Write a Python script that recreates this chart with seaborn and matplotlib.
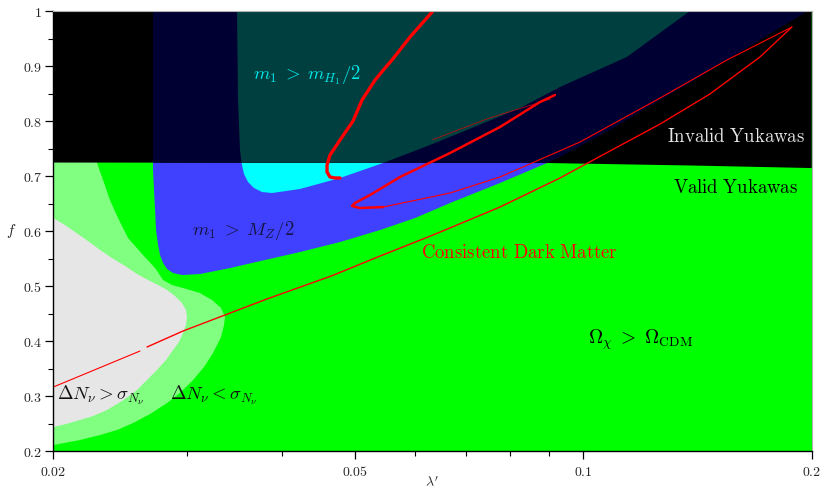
import matplotlib
matplotlib.use('Agg')
import matplotlib.pyplot as plt
import seaborn as sns
from matplotlib.ticker import FixedLocator, FuncFormatter, MultipleLocator, NullFormatter

# boundaries, as (lambda', f) pairs
yuk_lam = [0.02, 0.05, 0.09, 0.14, 0.2]
yuk_f = [0.7245, 0.7240, 0.7236, 0.7190, 0.7145]

dn_weak_lam = [0.02, 0.02256, 0.02284, 0.02326, 0.02375, 0.02434, 0.02509, 0.02626, 0.02724,
               0.02791, 0.02868, 0.02965, 0.03122, 0.03238, 0.03328, 0.03368, 0.03358,
               0.03328, 0.03248, 0.03160, 0.03057, 0.02947, 0.02825, 0.02683, 0.02548,
               0.02427, 0.02305, 0.02169, 0.02]
dn_weak_f = [0.7473, 0.7473, 0.7236, 0.6927, 0.6564, 0.6236, 0.5873, 0.5564, 0.5327,
             0.5109, 0.5018, 0.4964, 0.4873, 0.4745, 0.46, 0.4436, 0.4291,
             0.4073, 0.3782, 0.3527, 0.3291, 0.3073, 0.2873, 0.2673, 0.2509,
             0.2382, 0.2291, 0.22, 0.2109]

dn_strong_lam = [0.02, 0.02072, 0.02136, 0.02222, 0.02305, 0.02390, 0.02487, 0.02579, 0.02667,
                 0.02749, 0.02825, 0.02894, 0.02956, 0.02992, 0.03001, 0.02992, 0.02965,
                 0.02929, 0.02877, 0.02816, 0.02740, 0.02658, 0.02579, 0.02464, 0.02354,
                 0.02256, 0.02169, 0.02079, 0.02]
dn_strong_f = [0.6236, 0.6109, 0.5982, 0.5818, 0.5655, 0.5509, 0.5364, 0.5218, 0.5109,
               0.5018, 0.4927, 0.4818, 0.4691, 0.4564, 0.4436, 0.4291, 0.4145,
               0.3982, 0.3836, 0.3655, 0.3473, 0.3291, 0.3109, 0.2909, 0.2745,
               0.2636, 0.2564, 0.2491, 0.2436]

mz_lam = [0.02707, 0.02707, 0.02715, 0.02724, 0.02732, 0.02749, 0.02765, 0.02791, 0.02825,
          0.02877, 0.02956, 0.03122, 0.03420, 0.03802, 0.04229, 0.04776, 0.05393, 0.05997,
          0.06669, 0.07762, 0.08952, 0.09312, 0.1084, 0.1262, 0.1424, 0.1609, 0.1977]
mz_f = [1.0, 0.7109, 0.6745, 0.6382, 0.6018, 0.5745, 0.5564, 0.5418, 0.5309,
        0.5236, 0.52, 0.5218, 0.5327, 0.5473, 0.5618, 0.58, 0.6018, 0.6236,
        0.6509, 0.6873, 0.7236, 0.7345, 0.7836, 0.8382, 0.88, 0.9255, 1.0]

mh_lam = [0.03493, 0.03504, 0.03525, 0.03546, 0.03568, 0.03612, 0.03678, 0.03769, 0.03885,
          0.04229, 0.04776, 0.05442, 0.06277, 0.07022, 0.08250, 0.09312, 0.1141, 0.1382]
mh_f = [1.0, 0.8382, 0.7473, 0.72, 0.7036, 0.6891, 0.6782, 0.6709, 0.6691,
        0.6764, 0.6964, 0.7236, 0.7564, 0.7836, 0.8236, 0.8618, 0.9164, 1.0]

# consistent dark matter contour pieces
dm_hook_lam = [0.0640, 0.06333, 0.05906, 0.05592, 0.05475, 0.05312, 0.05106, 0.04968, 0.04776,
               0.04633, 0.04591, 0.04591, 0.04633, 0.04703, 0.04776]
dm_hook_f = [1.01, 1.0, 0.9527, 0.9109, 0.8964, 0.8745, 0.8382, 0.8, 0.7655,
             0.7382, 0.72, 0.7073, 0.6982, 0.6964, 0.6964]
dm_loop_lam = [0.09172, 0.08763, 0.07762, 0.06669, 0.05730, 0.05231, 0.04998, 0.04953, 0.05075, 0.05442]
dm_loop_f = [0.8473, 0.8345, 0.7891, 0.7418, 0.6982, 0.6655, 0.6509, 0.6455, 0.6418, 0.6436]
dm_upper_lam = [0.05442, 0.06669, 0.07762, 0.09895, 0.1262, 0.1546, 0.1883]
dm_upper_f = [0.6436, 0.6691, 0.6982, 0.7618, 0.8418, 0.9109, 0.9709]
dm_lower_lam = [0.1883, 0.1709, 0.1468, 0.1262, 0.1084, 0.09312, 0.07762, 0.06333, 0.05393,
                0.04650, 0.03825, 0.03368, 0.02965, 0.02658]
dm_lower_f = [0.9709, 0.9164, 0.8491, 0.7945, 0.7455, 0.6964, 0.6436, 0.5927, 0.5545,
              0.5182, 0.4764, 0.4473, 0.4182, 0.3891]
dm_tail_lam = [0.02602, 0.02]
dm_tail_f = [0.3818, 0.3164]
dm_faint_lam = [0.0905, 0.075, 0.0633]
dm_faint_f = [0.840, 0.805, 0.766]

x_major = [0.02, 0.05, 0.1, 0.2]
x_minor = [0.03, 0.04, 0.06, 0.07, 0.08, 0.09]

sns.set_theme(style='ticks')
plt.rcParams['font.family'] = ['DejaVu Serif']
plt.rcParams['mathtext.fontset'] = 'cm'

fig = plt.figure(figsize=(8.23, 4.92), dpi=100)
ax = fig.add_axes([0.0648, 0.0833, 0.9215, 0.8943])
ax.set_xscale('log')
ax.set_xlim(0.02, 0.2)
ax.set_ylim(0.2, 1.0)
ax.set_facecolor('#00ff00')

ax.fill(dn_weak_lam, dn_weak_f, color='#80ff80', lw=0)
ax.fill(dn_strong_lam, dn_strong_f, color='#e6e6e6', lw=0)
ax.fill(mz_lam, mz_f, color='#4040ff', lw=0)
ax.fill(mh_lam, mh_f, color='#00ffff', lw=0)

# invalid yukawas: everything above the line goes dark
inv = ax.fill(yuk_lam + [0.2, 0.02], yuk_f + [1.0, 1.0], color='black', lw=0)[0]
navy = ax.fill(mz_lam, mz_f, color='#000033', lw=0)[0]
navy.set_clip_path(inv)
teal = ax.fill(mh_lam, mh_f, color='#003f3f', lw=0)[0]
teal.set_clip_path(inv)

sns.lineplot(x=dm_faint_lam, y=dm_faint_f, sort=False, estimator=None, color='red', lw=0.6, alpha=0.7, ax=ax)
sns.lineplot(x=dm_hook_lam, y=dm_hook_f, sort=False, estimator=None, color='red', lw=2.4, ax=ax)
sns.lineplot(x=dm_loop_lam, y=dm_loop_f, sort=False, estimator=None, color='red', lw=1.8, ax=ax)
sns.lineplot(x=dm_upper_lam, y=dm_upper_f, sort=False, estimator=None, color='red', lw=0.8, ax=ax)
sns.lineplot(x=dm_lower_lam, y=dm_lower_f, sort=False, estimator=None, color='red', lw=1.0, ax=ax)
sns.lineplot(x=dm_tail_lam, y=dm_tail_f, sort=False, estimator=None, color='red', lw=0.8, ax=ax)

ax.text(0.03667, 0.8836, r'$m_1\;>\;m_{H_1}/2$', color='#00e8e8', fontsize=13.5, va='center')
ax.text(0.03047, 0.6018, r'$m_1\;>\;M_Z/2$', color='#151545', fontsize=13.5, va='center')
ax.text(0.1959, 0.7709, r'$\mathrm{Invalid\ Yukawas}$', color='#e6e6e6', fontsize=13.5, ha='right', va='center')
ax.text(0.1919, 0.6782, r'$\mathrm{Valid\ Yukawas}$', color='black', fontsize=13.5, ha='right', va='center')
ax.text(0.06108, 0.56, r'$\mathrm{Consistent\ Dark\ Matter}$', color='red', fontsize=13.5, va='center')
ax.text(0.1014, 0.4018, r'$\Omega_\chi\;>\;\Omega_{\mathrm{CDM}}$', color='black', fontsize=14, va='center')
ax.text(0.0202, 0.3018, r'$\Delta N_\nu > \sigma_{N_\nu}$', color='#111111', fontsize=13.5, va='center')
ax.text(0.02851, 0.3018, r'$\Delta N_\nu < \sigma_{N_\nu}$', color='#111111', fontsize=13.5, va='center')

ax.xaxis.set_major_locator(FixedLocator(x_major))
ax.xaxis.set_minor_locator(FixedLocator(x_minor))
ax.xaxis.set_major_formatter(FuncFormatter(lambda v, p: f'${v:g}$'))
ax.xaxis.set_minor_formatter(NullFormatter())
ax.yaxis.set_major_locator(MultipleLocator(0.1))
ax.yaxis.set_minor_locator(MultipleLocator(0.05))
ax.yaxis.set_major_formatter(FuncFormatter(lambda v, p: f'${v:g}$'))
ax.tick_params(which='major', direction='out', length=6, width=0.9, color='black', labelsize=10, pad=2)
ax.tick_params(which='minor', direction='out', length=3.5, width=0.8, color='black')
ax.tick_params(axis='x', pad=4)

for s in ['left', 'bottom']:
    ax.spines[s].set_color('black')
    ax.spines[s].set_linewidth(1.0)
for s in ['top', 'right']:
    ax.spines[s].set_color('#b0b0b0')
    ax.spines[s].set_linewidth(0.8)

ax.set_xlabel(r'$\lambda^{\prime}$', fontsize=10)
ax.set_ylabel(r'$f$', fontsize=11, rotation=0)
ax.xaxis.set_label_coords(0.5, -0.073)
ax.xaxis.label.set_va('center')
ax.yaxis.set_label_coords(-0.055, 0.5)
ax.yaxis.label.set_va('center')

fig.savefig('out.png', dpi=100)
